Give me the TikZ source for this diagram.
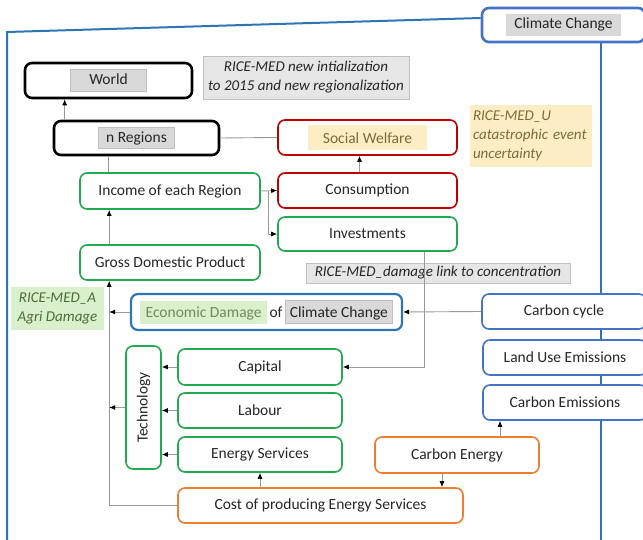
\documentclass[tikz,border=0pt]{standalone}
\usepackage{fontspec}
\setmainfont{Carlito}
\usetikzlibrary{arrows.meta,calc}
\definecolor{cblue}{HTML}{2E75B6}
\definecolor{bblue}{HTML}{4472C4}
\definecolor{cred}{HTML}{C00000}
\definecolor{cgreen}{HTML}{22A94F}
\definecolor{corange}{HTML}{ED7D31}
\definecolor{hlgray}{HTML}{D9D9D9}
\definecolor{hlborder}{HTML}{BFBFBF}
\definecolor{notegray}{HTML}{E6E6E6}
\definecolor{noteyellow}{HTML}{FCEDC4}
\definecolor{notegreen}{HTML}{DAEFCB}
\definecolor{txt}{HTML}{262626}
\definecolor{ytext}{HTML}{7F6A3A}
\definecolor{gtext}{HTML}{4E6B3A}
\definecolor{linegray}{HTML}{999999}
\newcommand\mainfs{\fontsize{15.5}{18}\selectfont}
\newcommand\notefs{\fontsize{15}{19}\selectfont}
\newcommand\hlbox[5]{{\setlength\fboxsep{0pt}\setlength\fboxrule{0.8pt}\fcolorbox{#1}{#2}{\makebox[#3]{\rule[-6pt]{0pt}{#4}#5}}}}
\tikzset{
  box/.style={draw, rounded corners=7pt, fill=white, line width=1.6pt, inner sep=0pt, text=txt, font=\mainfs},
  thickbox/.style={box, line width=2.6pt},
  note/.style={inner sep=0pt, font=\notefs\itshape, align=center},
  conn/.style={draw=linegray, line width=0.9pt},
  arr/.style={conn, -{Latex[length=6pt,width=5pt,color=black]}},
  frame/.style={draw=cblue, line width=2pt}
}
\begin{document}
\begin{tikzpicture}[x=1pt,y=-1pt]
\useasboundingbox (0,0) rectangle (643,540);

% Climate change box and frame
\node[thickbox, draw=bblue, minimum width=163, minimum height=34] (cctop) at (563.5,25) {\hlbox{hlgray}{hlgray}{113pt}{20pt}{Climate Change}};
\draw[frame] ([yshift=7]cctop.west) -- (7,32) -- (7,545);
\draw[frame] ([xshift=37.5]cctop.south) -- ++(0,505);

% top black boxes
\node[thickbox, draw=black, minimum width=167, minimum height=35] (world) at (108.5,80.5) {\hlbox{hlborder}{hlgray}{75pt}{21pt}{World}};
\node[thickbox, draw=black, minimum width=165, minimum height=34] (nreg) at (136.5,138) {\hlbox{hlborder}{hlgray}{75pt}{21pt}{n Regions}};

% notes
\node[note, fill=notegray, draw=hlborder, line width=0.6pt, minimum width=206, minimum height=43, text=txt] (n1) at (306,77.5) {RICE-MED new intialization\\to 2015 and new regionalization};
\node[note, fill=noteyellow, minimum width=122, minimum height=62, text=ytext, align=left, text width=116] (n2) at (531,136) {RICE-MED\_U\\catastrophic event\\uncertainty};
\node[note, fill=notegray, draw=hlborder, line width=0.6pt, minimum width=264, minimum height=20, text=txt] (n3) at (438,273) {RICE-MED\_damage link to concentration};
\node[note, fill=notegreen, minimum width=93, minimum height=43, text=gtext] (n4) at (57.5,308.5) {RICE-MED\_A\\Agri Damage};

% boxes
\node[box, draw=cred, minimum width=179, minimum height=35] (sw) at (367.5,137.5) {\hlbox{noteyellow}{noteyellow}{117pt}{24pt}{\textcolor{ytext}{Social Welfare}}};
\node[box, draw=cgreen, minimum width=180, minimum height=36] (inc) at (170,191) {Income of each Region};
\node[box, draw=cred, minimum width=179, minimum height=35] (cons) at (367.5,190.5) {Consumption};
\node[box, draw=cgreen, minimum width=179, minimum height=34] (inv) at (367.5,234) {Investments};
\node[box, draw=cgreen, minimum width=180, minimum height=35] (gdp) at (170,262.5) {Gross Domestic Product};
\node[thickbox, draw=cblue, line width=2.2pt, minimum width=271, minimum height=36] (econ) at (266.5,312) {\hlbox{notegreen}{notegreen}{125pt}{21pt}{\textcolor{gtext!80!white}{Economic Damage}}\,of\,\hlbox{hlborder}{hlgray}{106pt}{22pt}{Climate Change}};
\node[box, draw=bblue, minimum width=164, minimum height=35] (ccyc) at (564,311.5) {Carbon cycle};
\node[box, draw=bblue, minimum width=164, minimum height=35] (luse) at (565,357.5) {Land Use Emissions};
\node[box, draw=bblue, minimum width=164, minimum height=35] (cemis) at (565,402.5) {Carbon Emissions};
\node[box, draw=cgreen, minimum width=35, minimum height=123] (tech) at (143.5,407.5) {\rotatebox{90}{Technology}};
\node[box, draw=cgreen, minimum width=164, minimum height=36] (cap) at (260,367) {Capital};
\node[box, draw=cgreen, minimum width=164, minimum height=35] (lab) at (260,410.5) {Labour};
\node[box, draw=cgreen, minimum width=164, minimum height=35] (es) at (260,454.5) {Energy Services};
\node[box, draw=corange, minimum width=285, minimum height=35] (cost) at (320.5,505.5) {Cost of producing Energy Services};
\node[box, draw=corange, minimum width=164, minimum height=36] (ce) at (457,455) {Carbon Energy};

% connectors
\draw[arr] ([xshift=12]nreg.north west) -- ([xshift=12]nreg.north west |- world.south);
\draw[conn] (nreg.east) -- (sw.west);
\draw[conn] ([xshift=56]nreg.south west) -- ([xshift=56]nreg.south west |- inc.north);
\draw[arr] (inc.east) -- (cons.west);
\draw[arr] ([xshift=8]inc.east) |- (inv.west);
\draw[arr] ([xshift=-8]cons.north) -- ([xshift=-8]sw.south);
\draw[arr] ([xshift=30]gdp.south west |- gdp.north) -- ([xshift=30]inc.south west);
\draw[arr] ([xshift=-33]inv.south east) |- (cap.east);
\coordinate (vl) at ([xshift=30]gdp.south west);
\draw[arr] (cost.west) -| (vl);
\draw[arr] (econ.west) -- (econ.west -| vl);
\draw[arr] (tech.west) -- (tech.west -| vl);
\draw[arr] (cap.west) -- (cap.west -| tech.east);
\draw[arr] (lab.west) -- (lab.west -| tech.east);
\draw[arr] (es.west) -- (es.west -| tech.east);
\draw[arr] (es.south |- cost.north) -- (es.south);
\draw[arr] ([xshift=-15]ce.south) -- ([xshift=-15]ce.south |- cost.north);
\draw[arr] ([xshift=43]ce.north) -- ([xshift=43]ce.north |- cemis.south);
\draw[arr] (ccyc.west) -- (econ.east);
\end{tikzpicture}
\end{document}
